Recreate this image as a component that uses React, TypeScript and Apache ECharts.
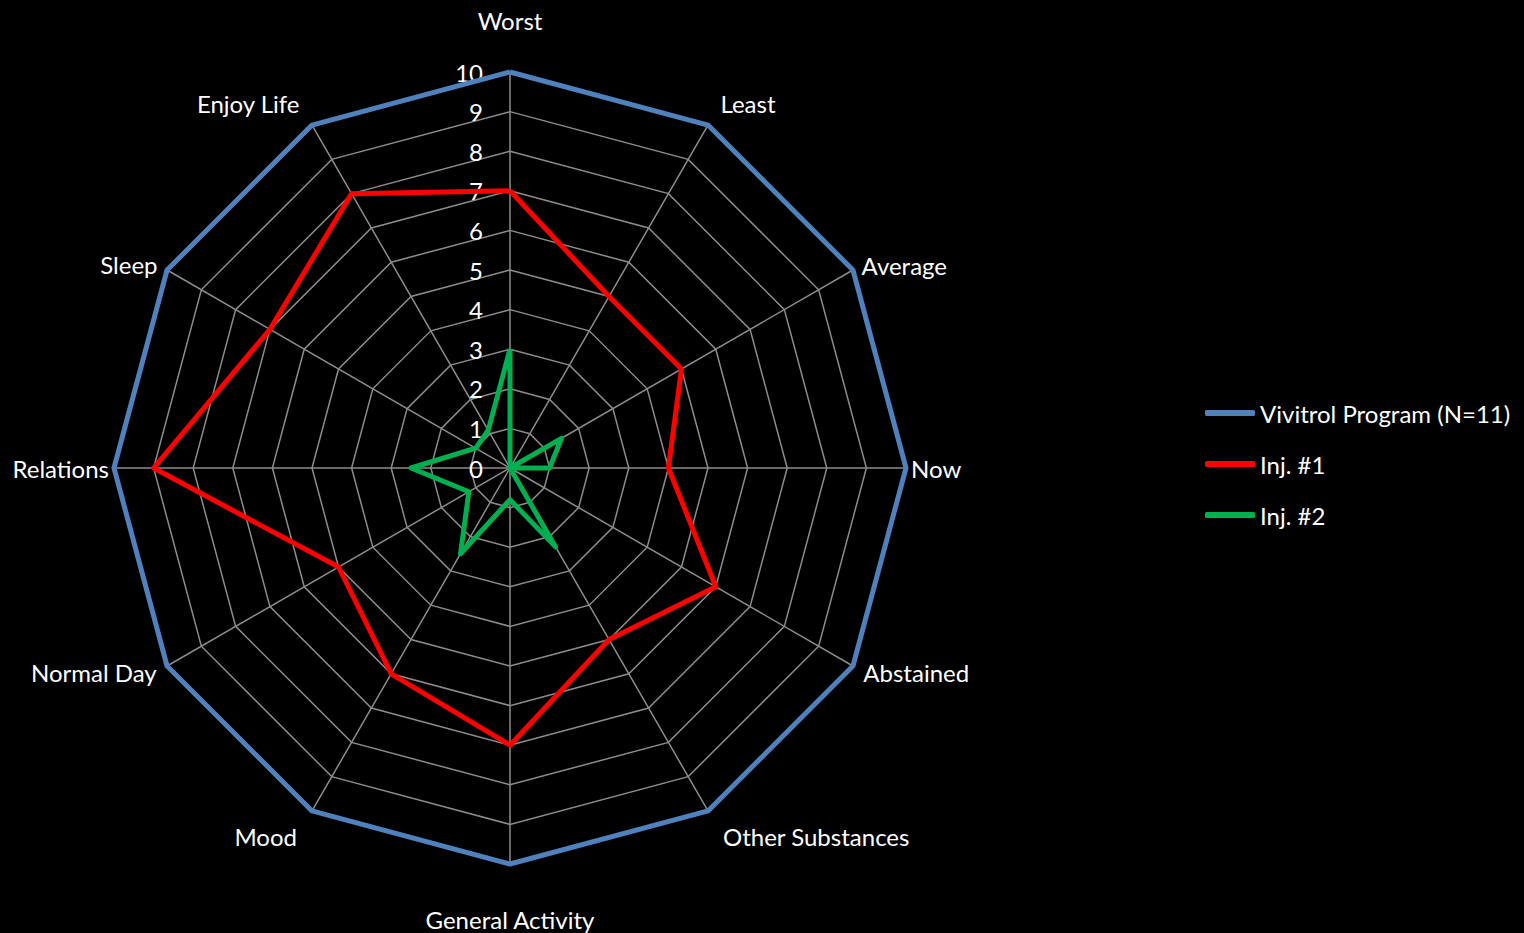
import React, { useEffect, useRef } from "react";
import * as echarts from "echarts";

// Indicator (axis) names, clockwise from the top
const indicatorNames = [
  "Worst",
  "Least",
  "Average",
  "Now",
  "Abstained",
  "Other Substances",
  "General Activity",
  "Mood",
  "Normal Day",
  "Relations",
  "Sleep",
  "Enjoy Life",
];

// Distance of each name from the outer ring
const nameGaps = [40, 25, 10, 5, 12, 30, 43, 30, 12, 5, 11, 25];

const tickLabels = ["0", "1", "2", "3", "4", "5", "6", "7", "8", "9", "10"];

const seriesNames = ["Vivitrol Program (N=11)", "Inj. #1", "Inj. #2"];
const seriesColors = ["#4F81BD", "#FF0000", "#00B050"];

const programValues = [10, 10, 10, 10, 10, 10, 10, 10, 10, 10, 10, 10];
const inj1Values = [7, 5, 5, 4, 6, 5, 7, 6, 5, 9, 7, 8];
const inj2Values = [3, 0, 1.5, 1, 0, 2.3, 0.8, 2.5, 1.2, 2.5, 1, 1.1];

export default function App() {
  const ref = useRef<HTMLDivElement>(null);

  useEffect(() => {
    if (!ref.current) return;
    const chart = echarts.init(ref.current, null, { renderer: "svg" });
    // ECharts radar runs counter-clockwise; reorder so it reads clockwise
    const n = indicatorNames.length;
    const order = indicatorNames.map((_, i) => (i === 0 ? 0 : n - i));
    const pick = <T,>(arr: T[]) => order.map((i) => arr[i]);
    const font = "Lato, 'Open Sans', sans-serif";
    const valueSets = [programValues, inj1Values, inj2Values];
    const gaps = pick(nameGaps);

    chart.setOption({
      animation: false,
      backgroundColor: "#000000",
      legend: {
        orient: "vertical",
        left: 1205,
        top: 401,
        padding: 0,
        itemGap: 27,
        itemWidth: 50,
        itemHeight: 6,
        icon: "roundRect",
        data: seriesNames,
        textStyle: { color: "#ffffff", fontSize: 24, fontFamily: font },
      },
      radar: {
        center: [510, 468],
        radius: 396,
        startAngle: 90,
        splitNumber: 10,
        shape: "polygon",
        axisName: { color: "#ffffff", fontSize: 24, fontFamily: font },
        indicator: pick(indicatorNames).map((name, k) => ({
          name,
          min: 0,
          max: 10,
          nameGap: gaps[k],
          ...(k === 0 ? { axisLabel: { show: true } } : {}),
        })),
        axisLine: { lineStyle: { color: "#8c8c8c", width: 1.5 } },
        splitLine: { lineStyle: { color: "#8c8c8c", width: 1.5 } },
        splitArea: { show: false },
        axisTick: { show: false },
        axisLabel: {
          show: false,
          color: "#ffffff",
          fontSize: 24,
          fontFamily: font,
          margin: 27,
          formatter: (v: number) => tickLabels[Math.round(v)] ?? String(v),
        },
      },
      series: [
        {
          type: "radar",
          symbol: "none",
          data: seriesNames.map((name, i) => ({
            name,
            value: pick(valueSets[i]),
            itemStyle: { color: seriesColors[i] },
            lineStyle: { color: seriesColors[i], width: 5, join: "round" },
          })),
        },
      ],
    });

    return () => chart.dispose();
  }, []);

  return (
    <div
      ref={ref}
      style={{
        position: "fixed",
        left: 0,
        top: 0,
        width: 1524,
        height: 933,
        background: "#000000",
      }}
    />
  );
}
